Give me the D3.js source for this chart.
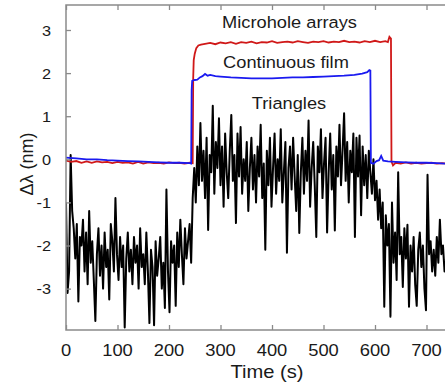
<!DOCTYPE html>
<html><head><meta charset="utf-8">
<script src="https://cdn.jsdelivr.net/npm/d3@7"></script>
<style>body{margin:0;background:#fff}svg{display:block}</style>
</head><body><svg id="c" width="445" height="383"></svg>
<script>
// ---- data ----
const xTicks = [0,100,200,300,400,500,600,700];
const yTicks = [-3,-2,-1,0,1,2,3];
const seriesLabels = ["Microhole arrays","Continuous film","Triangles"];

const redT = [0,10,20,30,40,50,60,70,80,90,100,110,120,130,140,150,160,170,180,190,200,210,220,230,240,246,247,248,250,253,257,262,270,280,290,300,310,320,330,340,350,360,370,380,390,400,410,420,430,440,450,460,470,480,490,500,510,520,530,540,550,560,570,580,590,600,610,620,625,628,631,632,635,640,650,660,670,680,690,700,710,720,730,740];
const redV = [-0.03,-0.06,-0.04,-0.08,-0.05,-0.08,-0.05,-0.07,-0.06,-0.09,-0.06,-0.08,-0.07,-0.1,-0.06,-0.1,-0.07,-0.09,-0.08,-0.1,-0.07,-0.09,-0.08,-0.1,-0.08,-0.09,1.9,2.3,2.45,2.58,2.64,2.66,2.68,2.7,2.67,2.71,2.69,2.72,2.68,2.72,2.7,2.73,2.69,2.72,2.71,2.74,2.7,2.72,2.73,2.71,2.74,2.72,2.7,2.73,2.72,2.74,2.71,2.73,2.72,2.75,2.72,2.73,2.71,2.74,2.72,2.75,2.72,2.74,2.72,2.84,2.8,-0.05,-0.14,-0.08,-0.1,-0.07,-0.1,-0.08,-0.1,-0.09,-0.08,-0.1,-0.09,-0.1];

const blueT = [0,20,40,60,80,100,120,140,160,180,200,220,240,243,244,245,250,255,260,265,270,275,280,290,300,320,340,360,380,400,420,440,460,480,500,520,540,560,575,585,589,591,592,597,603,608,612,616,625,640,660,680,700,720,740];
const blueV = [0.04,0.02,0.0,0.0,-0.02,-0.03,-0.04,-0.05,-0.06,-0.07,-0.08,-0.08,-0.09,-0.1,1.6,1.82,1.84,1.85,1.9,1.93,1.98,1.94,1.96,1.93,1.92,1.9,1.89,1.88,1.88,1.88,1.89,1.9,1.9,1.91,1.92,1.93,1.94,1.96,1.99,2.02,2.07,2.06,-0.08,-0.1,-0.04,-0.02,0.08,-0.03,-0.05,-0.06,-0.07,-0.08,-0.08,-0.09,-0.1];

// Triangles: one value every 3 s from t = 0
const triStep = 3;
const triV = [
-1.0,-3.1,-2.6,0.1,-1.2,-1.6,-2.3,-1.5,-3.3,-1.8,
-2.0,-1.4,-2.6,-1.7,-2.9,-1.2,-2.4,-1.9,-2.8,-3.75,
-2.2,-1.6,-2.7,-2.0,-3.0,-1.7,-2.5,-2.1,-3.25,-1.5,
-1.9,-2.6,-0.9,-2.2,-2.8,-1.8,-2.5,-2.0,-3.9,-2.3,
-1.7,-2.6,-2.1,-2.9,-1.8,-2.4,-2.0,-3.0,-1.6,-2.5,
-2.2,-2.9,-1.7,-2.6,-3.8,-2.1,-2.5,-3.85,-1.9,-2.7,
-2.3,-1.8,-3.0,-2.4,-3.45,-0.7,-2.6,-3.55,-1.9,-2.4,
-2.0,-3.4,-1.7,-2.5,-1.4,-2.2,-2.9,-1.6,-2.3,-1.9,
-1.5,-2.4,-0.9,-0.2,-1.0,0.3,-0.6,0.84,-0.5,0.2,
-0.9,0.5,-1.64,0.1,-0.3,1.24,-0.8,0.4,-0.2,0.95,
-0.6,0.3,-1.1,0.6,-0.3,-0.9,0.2,1.03,-0.5,0.1,
-1.48,0.6,-0.4,0.75,-0.8,0.0,-0.5,0.4,-1.2,-0.2,
0.5,-0.7,0.1,-1.0,0.3,-0.4,0.8,-0.9,-0.1,-2.1,
0.2,-0.6,0.5,-1.1,-0.2,0.6,-0.8,0.0,-0.5,0.7,
-1.0,-0.3,0.4,-2.17,-0.2,0.3,-0.7,0.5,-0.4,-1.2,
0.1,-1.71,-0.3,0.5,-0.8,0.2,-0.5,0.9,-1.1,-0.2,
0.4,-0.6,-1.8,0.3,-0.3,0.7,-0.9,-0.1,0.5,-1.7,
-0.3,0.6,-0.7,0.1,-1.65,0.3,-0.4,0.8,-0.6,0.2,
1.07,-0.5,0.4,-1.0,0.2,-0.3,0.6,-1.8,0.5,-0.4,
0.55,-1.3,0.3,-0.6,0.1,-0.9,0.2,-0.3,-0.8,0.0,
-0.95,-0.5,-1.4,-0.7,-1.6,-1.0,-3.42,-1.3,-2.0,-1.5,
-3.65,-1.0,-2.4,-1.7,-2.8,-0.3,-2.2,-1.8,-2.96,-1.6,
-2.3,-1.52,-3.42,-2.0,-2.6,-1.8,-2.9,-3.4,-2.1,-1.7,
-2.5,-2.0,-3.0,-3.5,-0.36,-2.2,-1.9,-2.6,-2.1,-2.7,
-1.8,-2.4,-1.4,-2.2,-2.0,-2.6,-2.3
];

// ---- layout ----
const svg = d3.select("#c");
const L = 66, T = 5, B = 330, R = 478;
const x = d3.scaleLinear().domain([0,800]).range([L,R]);
const y = d3.scaleLinear().domain([-3.96,3.58]).range([B,T]);
const SX = 1.12;
const textCol = "#1a1a1a", frameCol = "#8a8a8a";

svg.append("defs").append("clipPath").attr("id","clip")
  .append("rect").attr("x",L).attr("y",T).attr("width",R-L).attr("height",B-T);

const plot = svg.append("g").attr("clip-path","url(#clip)");
const line = d3.line().x(d=>x(d[0])).y(d=>y(d[1]));

const tri = triV.map((v,i)=>[i*triStep, v]);
plot.append("path").datum(tri).attr("d",line).attr("fill","none")
  .attr("stroke","#000").attr("stroke-width",2).attr("stroke-linejoin","round");
plot.append("path").datum(redT.map((t,i)=>[t,redV[i]])).attr("d",line).attr("fill","none")
  .attr("stroke","#d01818").attr("stroke-width",1.8);
plot.append("path").datum(blueT.map((t,i)=>[t,blueV[i]])).attr("d",line).attr("fill","none")
  .attr("stroke","#1a1af0").attr("stroke-width",1.8);

// frame
svg.append("rect").attr("x",L).attr("y",T).attr("width",R-L).attr("height",B-T)
  .attr("fill","none").attr("stroke",frameCol).attr("stroke-width",1.5);

// axes
const xb = svg.append("g").attr("transform",`translate(0,${B})`)
  .call(d3.axisBottom(x).tickValues(xTicks).tickSizeInner(-5).tickSizeOuter(0).tickPadding(0).tickFormat(""));
const xt = svg.append("g").attr("transform",`translate(0,${T})`)
  .call(d3.axisTop(x).tickValues(xTicks).tickSizeInner(-5).tickSizeOuter(0).tickFormat(""));
const yl = svg.append("g").attr("transform",`translate(${L},0)`)
  .call(d3.axisLeft(y).tickValues(yTicks).tickSizeInner(-5).tickSizeOuter(0).tickFormat(""));
[xb,xt,yl].forEach(g=>{g.select(".domain").remove(); g.selectAll("line").attr("stroke",frameCol).attr("stroke-width",1.3);});

function stext(px,py,str,size,anchor,sx){
  svg.append("text").attr("transform",`translate(${px},${py}) scale(${sx},1)`)
    .attr("text-anchor",anchor).attr("font-family","'Liberation Sans',Arial,sans-serif")
    .attr("font-size",size).attr("fill",textCol).text(str);
}
xTicks.forEach(t=>stext(x(t),356,String(t),17,"middle",1.08));
yTicks.forEach(v=>stext(51,y(v)+5.5,String(v),15.5,"end",1.05));
stext(267,378,"Time (s)",18,"middle",SX);
svg.append("text").attr("transform",`translate(33,164) rotate(-90)`)
  .attr("text-anchor","middle").attr("font-family","'Liberation Sans',Arial,sans-serif")
  .attr("font-size",18).attr("fill",textCol).text("Δλ (nm)");

const labY = [28,68,109];
const labX = [289.5,286,289];
seriesLabels.forEach((s,i)=>stext(labX[i],labY[i],s,16.3,"middle",SX));
</script></body></html>
